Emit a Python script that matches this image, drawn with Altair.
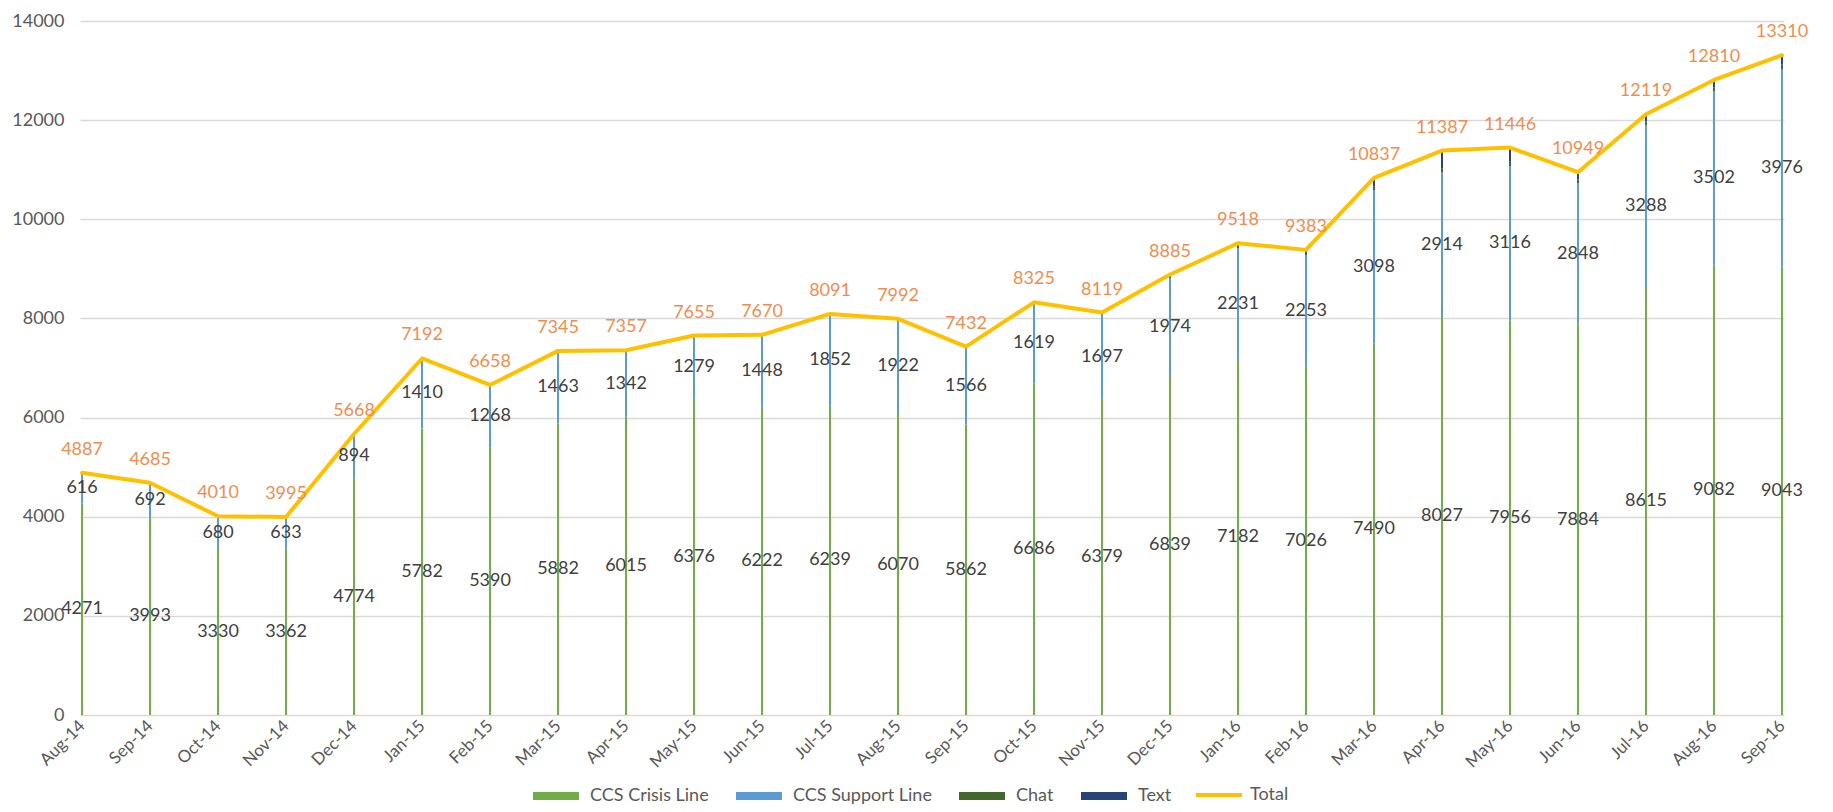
import altair as alt
import pandas as pd

months = ["Aug-14", "Sep-14", "Oct-14", "Nov-14", "Dec-14", "Jan-15", "Feb-15", "Mar-15",
          "Apr-15", "May-15", "Jun-15", "Jul-15", "Aug-15", "Sep-15", "Oct-15", "Nov-15",
          "Dec-15", "Jan-16", "Feb-16", "Mar-16", "Apr-16", "May-16", "Jun-16", "Jul-16",
          "Aug-16", "Sep-16"]
crisis = [4271, 3993, 3330, 3362, 4774, 5782, 5390, 5882, 6015, 6376, 6222, 6239, 6070,
          5862, 6686, 6379, 6839, 7182, 7026, 7490, 8027, 7956, 7884, 8615, 9082, 9043]
support = [616, 692, 680, 633, 894, 1410, 1268, 1463, 1342, 1279, 1448, 1852, 1922,
           1566, 1619, 1697, 1974, 2231, 2253, 3098, 2914, 3116, 2848, 3288, 3502, 3976]
chat = [0, 0, 0, 0, 0, 0, 0, 0, 0, 0, 0, 0, 0,
        4, 20, 43, 72, 60, 60, 80, 90, 90, 70, 70, 80, 100]
text = [0, 0, 0, 0, 0, 0, 0, 0, 0, 0, 0, 0, 0,
        0, 0, 0, 0, 45, 44, 169, 356, 284, 147, 146, 146, 191]
total = [4887, 4685, 4010, 3995, 5668, 7192, 6658, 7345, 7357, 7655, 7670, 8091, 7992,
         7432, 8325, 8119, 8885, 9518, 9383, 10837, 11387, 11446, 10949, 12119, 12810, 13310]

series_names = ["CCS Crisis Line", "CCS Support Line", "Chat", "Text"]
series_colors = ["#70AD47", "#5B9BD5", "#43682B", "#264478"]
y_ticks = [0, 2000, 4000, 6000, 8000, 10000, 12000, 14000]

FONT = "Lato"

rows = []
for i, m in enumerate(months):
    for k, (name, vals) in enumerate(zip(series_names, [crisis, support, chat, text])):
        rows.append({"month": m, "series": name, "value": vals[i], "order": k})
bars_df = pd.DataFrame(rows)
tot_df = pd.DataFrame({"month": months, "total": total, "crisis": crisis,
                       "support": support, "series": ["Total"] * len(months)})

x_enc = alt.X("month:O", sort=months,
              scale=alt.Scale(type="point", padding=0.03),
              axis=alt.Axis(title=None, labelAngle=-45, labelAlign="right",
                            labelBaseline="middle", ticks=False, domain=False,
                            labelPadding=8, labelFont=FONT, labelFontSize=17,
                            labelColor="#595959", grid=False))
y_scale = alt.Scale(domain=[0, 14000], nice=False)
y_axis = alt.Axis(title=None, values=y_ticks, format="d", ticks=False, domain=False,
                  labelPadding=16, labelFont=FONT, labelFontSize=18,
                  labelColor="#595959", gridColor="#D9D9D9", gridWidth=1.5)


def yenc(field, stack=None):
    if stack:
        return alt.Y(field, stack=stack, scale=y_scale, axis=y_axis)
    return alt.Y(field, scale=y_scale, axis=y_axis)


bars = alt.Chart(bars_df).mark_bar(size=2).encode(
    x=x_enc,
    y=yenc("value:Q", stack="zero"),
    color=alt.Color("series:N", sort=series_names,
                    scale=alt.Scale(domain=series_names, range=series_colors),
                    legend=alt.Legend(title=None, orient="none", direction="horizontal",
                                      legendX=467, legendY=766,
                                      symbolType="M-5.75,-1H5.75V1H-5.75Z", symbolSize=64,
                                      symbolStrokeWidth=0, labelOffset=25, columnPadding=27,
                                      labelFont=FONT, labelFontSize=18,
                                      labelColor="#595959")),
    order=alt.Order("order:Q"),
)

crisis_lbl = alt.Chart(tot_df).transform_calculate(
    ypos="datum.crisis / 2"
).mark_text(font=FONT, fontSize=18, color="#404040").encode(
    x=x_enc, y=yenc("ypos:Q"), text="crisis:Q"
)
support_lbl = alt.Chart(tot_df).transform_calculate(
    ypos="datum.crisis + datum.support / 2"
).mark_text(font=FONT, fontSize=18, color="#404040").encode(
    x=x_enc, y=yenc("ypos:Q"), text="support:Q"
)

line = alt.Chart(tot_df).mark_line(strokeWidth=4, strokeJoin="round", strokeCap="round").encode(
    x=x_enc,
    y=yenc("total:Q"),
    color=alt.Color("series:N",
                    scale=alt.Scale(domain=["Total"], range=["#FFC000"]),
                    legend=alt.Legend(title=None, orient="none", direction="horizontal",
                                      legendX=1114, legendY=749,
                                      symbolType="stroke", symbolSize=2116,
                                      symbolStrokeWidth=4, labelOffset=6,
                                      labelFont=FONT, labelFontSize=18,
                                      labelColor="#595959")),
)
total_lbl = alt.Chart(tot_df).mark_text(font=FONT, fontSize=18, color="#F28C4E",
                                        baseline="middle", dy=-23).encode(
    x=x_enc, y=yenc("total:Q"), text="total:Q"
)

chart = alt.layer(bars, line, crisis_lbl, support_lbl, total_lbl).resolve_scale(
    color="independent"
).properties(
    width=1704, height=694,
    autosize=alt.AutoSizeParams(type="none"),
    padding={"left": 72, "top": 13, "right": 41, "bottom": 89},
).configure_view(stroke=None)

chart.save("out.html", embed_options={"renderer": "svg", "actions": False})
